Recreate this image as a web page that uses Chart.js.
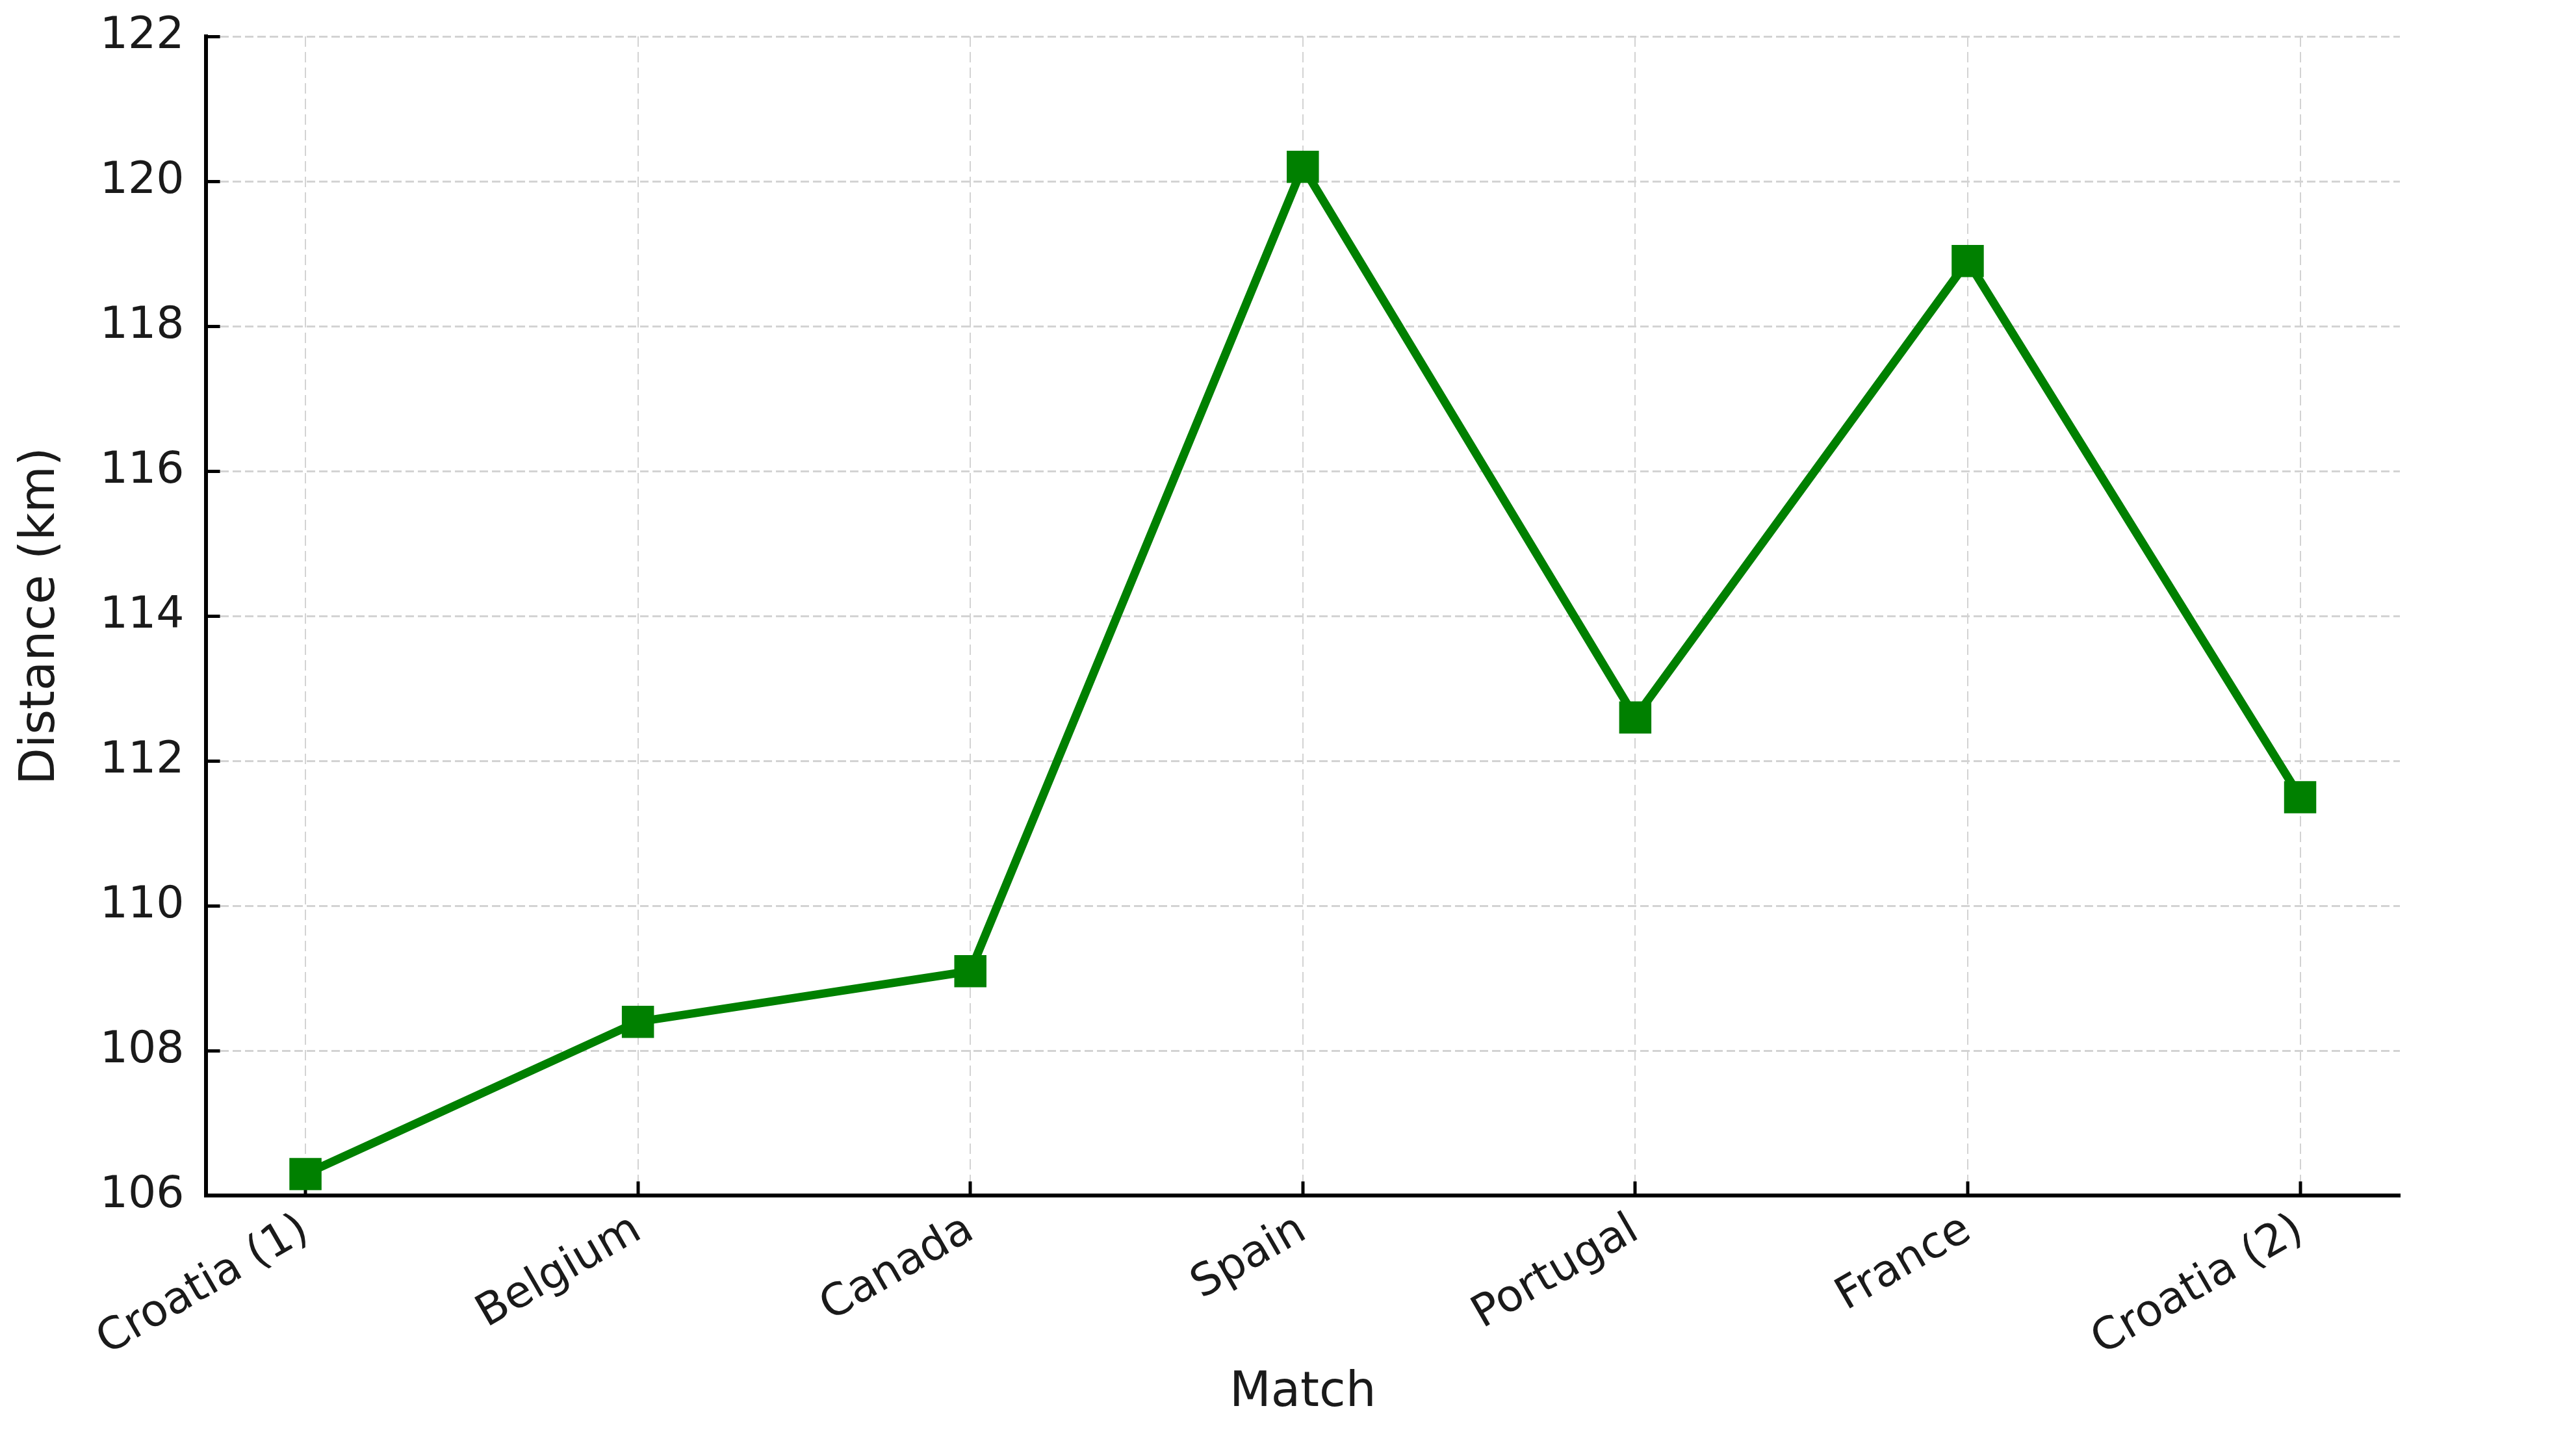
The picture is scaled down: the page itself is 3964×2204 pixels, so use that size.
<!DOCTYPE html>
<html>
<head>
<meta charset="utf-8">
<title>Distance per match</title>
<script src="https://cdn.jsdelivr.net/npm/chart.js@4/dist/chart.umd.min.js"></script>
<style>
  html, body { margin: 0; padding: 0; background: #fff; }
  #wrap { width: 3964px; height: 2204px; }
</style>
</head>
<body>
<div id="wrap"><canvas id="myChart"></canvas></div>
<script>
// data
const matches = ['Croatia (1)', 'Belgium', 'Canada', 'Spain', 'Portugal', 'France', 'Croatia (2)'];
const distances = [106.3, 108.4, 109.1, 120.2, 112.6, 118.9, 111.5];
const yTicks = [106, 108, 110, 112, 114, 116, 118, 120, 122];

const lineGreen = '#008000';
const gridGrey = '#d3d3d3';
const textCol = '#1a1a1a';

function draw(ctx) {
  const points = matches.map((m, i) => ({ x: i, y: distances[i] }));

  new Chart(ctx, {
    type: 'line',
    data: {
      datasets: [{
        label: 'Distance (km)',
        data: points,
        borderColor: lineGreen,
        backgroundColor: lineGreen,
        borderWidth: 13,
        pointStyle: 'rect',
        pointRadius: 35,
        pointBorderWidth: 0,
        fill: false,
        tension: 0
      }]
    },
    options: {
      responsive: true,
      maintainAspectRatio: false,
      devicePixelRatio: 1,
      animation: false,
      layout: { padding: { left: 6, right: 271, top: 56, bottom: 15 } },
      plugins: { legend: { display: false }, tooltip: { enabled: false } },
      scales: {
        x: {
          type: 'linear',
          min: -0.3,
          max: 6.3,
          afterBuildTicks: (scale) => {
            scale.ticks = matches.map((m, i) => ({ value: i }));
          },
          afterFit: (scale) => {
            scale.paddingLeft = 0;
            scale.paddingRight = 0;
          },
          ticks: {
            callback: (v) => matches[v],
            font: { family: 'DejaVu Sans', size: 68 },
            color: textCol,
            minRotation: 30,
            maxRotation: 30,
            padding: 35
          },
          // negative length -> ticks point into the plot
          grid: {
            color: gridGrey,
            lineWidth: 2,
            drawTicks: true,
            tickLength: -22,
            tickWidth: 5,
            tickColor: '#000',
            tickBorderDash: []
          },
          border: { display: true, color: '#000', width: 6, dash: [16, 8] },
          title: {
            display: true,
            text: 'Match',
            font: { family: 'DejaVu Sans', size: 74 },
            color: textCol,
            padding: { top: -40, bottom: 0 }
          }
        },
        y: {
          min: 106,
          max: 122,
          afterBuildTicks: (scale) => {
            scale.ticks = yTicks.map(v => ({ value: v }));
          },
          // the big label padding would otherwise push the plot down
          afterFit: (scale) => {
            scale.paddingTop = 0;
            scale.paddingBottom = 0;
          },
          ticks: {
            font: { family: 'DejaVu Sans', size: 68 },
            color: textCol,
            padding: 55
          },
          grid: {
            color: gridGrey,
            lineWidth: 3,
            drawTicks: true,
            tickLength: -22,
            tickWidth: 5,
            tickColor: '#000',
            tickBorderDash: []
          },
          border: { display: true, color: '#000', width: 6, dash: [13, 6] },
          title: {
            display: true,
            text: 'Distance (km)',
            font: { family: 'DejaVu Sans', size: 74 },
            color: textCol,
            padding: { top: 13, bottom: -9 }
          }
        }
      }
    }
  });
}

window.addEventListener('load', () => {
  const ctx = document.getElementById('myChart').getContext('2d');
  draw(ctx);
});
</script>
</body>
</html>
